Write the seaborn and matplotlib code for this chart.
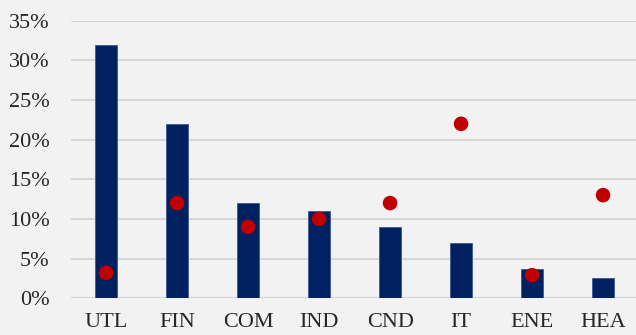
import matplotlib
matplotlib.use("Agg")
import matplotlib.pyplot as plt
import seaborn as sns
import pandas as pd
from matplotlib.ticker import FuncFormatter

sectors = ["UTL", "FIN", "COM", "IND", "CND", "IT", "ENE", "HEA"]
bar_values = [32, 22, 12, 11, 9, 7, 3.7, 2.5]
dot_values = [3.2, 12, 9, 10, 12, 22, 2.9, 13]

df = pd.DataFrame({"sector": sectors, "bar": bar_values, "dot": dot_values})

sns.set_theme(style="white")
plt.rcParams["font.family"] = ["Liberation Serif", "DejaVu Serif"]

bg = "#F2F2F2"
fig = plt.figure(figsize=(6.36, 3.35), dpi=100, facecolor=bg)
ax = fig.add_axes([0.111, 0.11, 0.893, 0.828], facecolor=bg)

sns.barplot(data=df, x="sector", y="bar", color="#002060", width=0.31,
            edgecolor="#3A5A94", linewidth=0.6, saturation=1, ax=ax, zorder=2)
sns.scatterplot(data=df, x="sector", y="dot", color="#C00000", s=110,
                edgecolor="none", ax=ax, zorder=3)

ax.set_ylim(0, 35)
ax.set_yticks(range(0, 36, 5))
ax.yaxis.set_major_formatter(FuncFormatter(lambda v, _: f"{int(v)}%"))
ax.grid(axis="y", color="#D6D6D6", linewidth=1.5, zorder=0)
ax.set_axisbelow(True)
for s in ax.spines.values():
    s.set_visible(False)
ax.set_xlabel("")
ax.set_ylabel("")
ax.tick_params(axis="both", length=0, colors="#262626")
ax.tick_params(axis="y", labelsize=16, pad=15)
ax.tick_params(axis="x", labelsize=16, pad=11)
ax.set_xlim(-0.5, len(sectors) - 0.5)

fig.savefig("out.png", dpi=100, facecolor=bg)
